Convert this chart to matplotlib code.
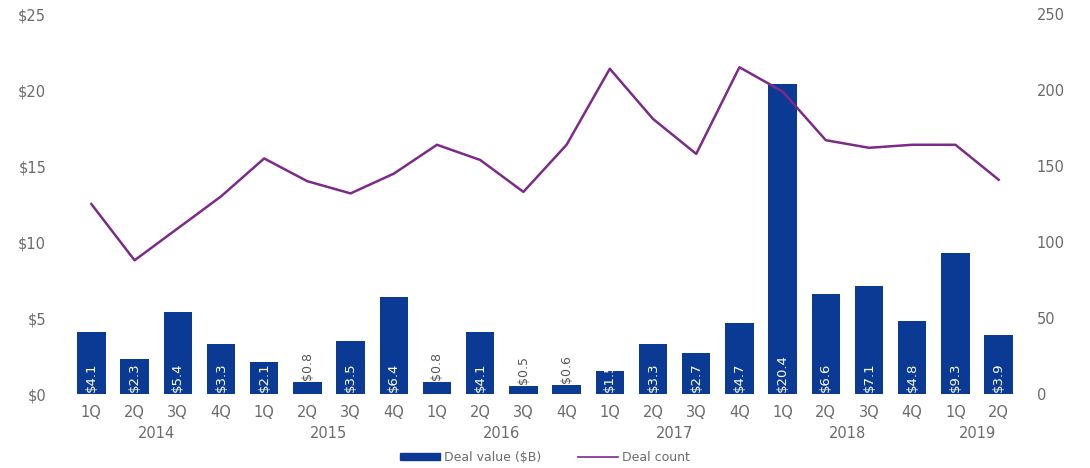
import matplotlib.pyplot as plt
import matplotlib.transforms as mtransforms
from matplotlib.lines import Line2D
from matplotlib.patches import Patch
import numpy as np

quarters = ["1Q", "2Q", "3Q", "4Q"] * 5 + ["1Q", "2Q"]
years = ["2014", "2015", "2016", "2017", "2018", "2019"]
deal_value = [4.1, 2.3, 5.4, 3.3, 2.1, 0.8, 3.5, 6.4, 0.8, 4.1, 0.5, 0.6,
              1.5, 3.3, 2.7, 4.7, 20.4, 6.6, 7.1, 4.8, 9.3, 3.9]
deal_count = [125, 88, 109, 130, 155, 140, 132, 145, 164, 154, 133, 164,
              214, 181, 158, 215, 199, 167, 162, 164, 164, 141]

BAR = "#0A3A94"
LINE = "#7D2A8A"
GREY = "#6b6b6b"

plt.rcParams["font.family"] = ["DejaVu Sans"]

fig = plt.figure(figsize=(10.9, 4.68), dpi=100)
ax = fig.add_axes([0.064, 0.158, 0.872, 0.812])
ax2 = ax.twinx()

x = np.arange(len(deal_value))
bars = ax.bar(x, deal_value, width=0.66, color=BAR, zorder=2)

for xi, v, rect in zip(x, deal_value, bars):
    label = "${:g}".format(v)
    if v < 1:
        ax.text(xi, v + 0.15, label, rotation=90, ha="center", va="bottom",
                fontsize=9, color="#555555")
    else:
        t = ax.text(xi, 0.12, label, rotation=90, ha="center", va="bottom",
                    fontsize=9.5, color="white", zorder=3)
        t.set_clip_path(rect)

ax2.plot(x, deal_count, color=LINE, lw=1.8, zorder=4)

ax.set_xlim(-0.5, len(x) - 0.5)
ax.set_ylim(0, 25)
ax2.set_ylim(0, 250)

ax.set_yticks(np.arange(0, 26, 5))
ax.set_yticklabels(["$0", "$5", "$10", "$15", "$20", "$25"])
ax2.set_yticks(np.arange(0, 251, 50))

ax.set_xticks(x)
ax.set_xticklabels(quarters)

for a in (ax, ax2):
    for s in a.spines.values():
        s.set_visible(False)
    a.tick_params(length=0, colors=GREY, labelsize=10.5)
ax.tick_params(axis="x", pad=8)
ax.tick_params(axis="y", pad=17)
ax2.tick_params(axis="y", pad=12)

# year labels centred under each group of quarters
trans = mtransforms.blended_transform_factory(ax.transData, fig.transFigure)
year_pos = [1.5, 5.5, 9.5, 13.5, 17.5, 20.5]
for yp, yr in zip(year_pos, years):
    fig.text(yp, 0.073, yr, transform=trans, ha="center", va="center",
             fontsize=10.5, color=GREY)

handles = [Patch(color=BAR), Line2D([0], [0], color=LINE, lw=1.2)]
fig.legend(handles, ["Deal value ($B)", "Deal count"], loc="center",
           bbox_to_anchor=(0.5, 0.022), ncol=2, frameon=False, fontsize=9,
           labelcolor=GREY, handlelength=3.2, handleheight=0.5,
           columnspacing=3, handletextpad=0.3)

fig.savefig("out.png", dpi=100)
